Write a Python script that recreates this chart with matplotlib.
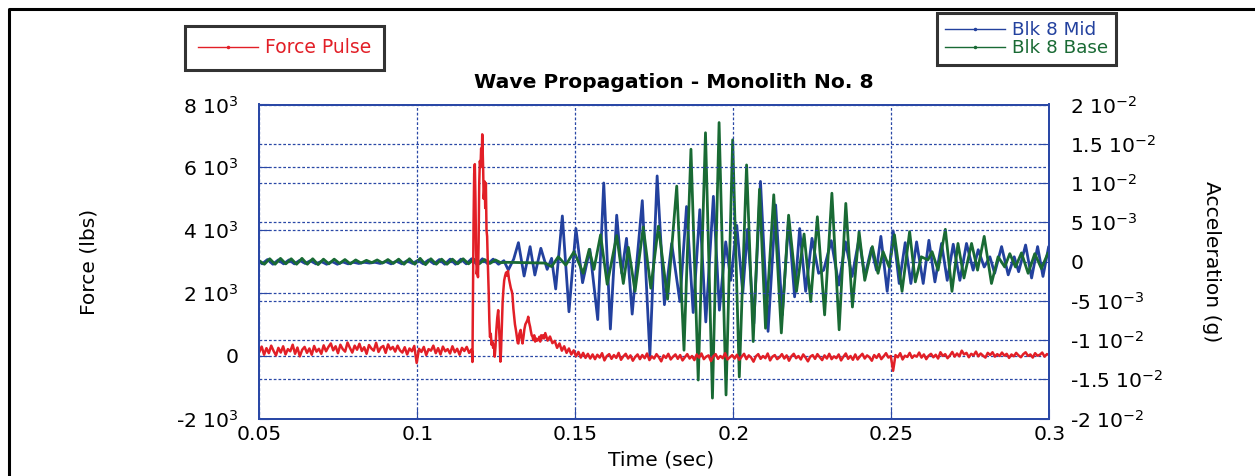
import numpy as np
import matplotlib
matplotlib.use("Agg")
import matplotlib.pyplot as plt
from matplotlib.lines import Line2D

# ---------------- data (time in ms, force in lbs, acceleration in milli-g) ----------------
# Force pulse: pre-pulse baseline samples (evenly spaced 50 ms .. 117.15 ms)
force_pre = [120, 290, 30, 240, 80, 320, 150, 10, 250, 100, 300, 40, 210, 140, 350, 60, 260, -20,
             190, 280, 90, 230, 30, 310, 130, 220, 60,
             330, 140, 280, 390, 170, 300, 80, 350, 210, 130, 420, 250, 100, 320, 190, 380, 150,
             270, 60, 340, 230, 160, 410, 120, 260, 310, 90, 360, 200, 280, 130, 320, 170,
             100, 270, 40, 230, 140, 310, -230, 220, 120, 280, 20, 210, 160, 320, 80, 240, 40,
             290, 140, 210, 70, 300, 110, 220, 30, 250, 150, 280, 90, 200]
# Force pulse: the impact itself
pulse_t = [117.3, 117.45, 117.6, 117.8, 118.0, 118.2, 118.4, 118.6, 118.8, 119.0,
           119.2, 119.4, 119.6, 119.8, 120.0, 120.2, 120.4, 120.55, 120.7, 120.85,
           121.0, 121.15, 121.3, 121.5, 121.7, 121.9, 122.1, 122.3, 122.6, 122.8,
           123.0, 123.25, 123.5, 123.75, 124.0, 124.25, 124.5, 124.75, 125.0, 125.3,
           125.6, 125.85, 126.1, 126.3, 126.5, 126.75, 127.0, 127.25, 127.5, 127.8,
           128.1, 128.4, 128.7, 129.0, 129.3, 129.6, 129.9, 130.1, 130.4, 130.6,
           130.9, 131.2, 131.5, 131.8, 132.0, 132.3, 132.7, 133.0, 133.3, 133.6,
           133.9, 134.2, 134.6, 134.9, 135.1, 135.4, 135.7, 135.9, 136.2, 136.5,
           136.7, 137.0, 137.3, 137.6, 137.9, 138.3, 138.6, 138.9, 139.2, 139.5,
           139.8, 140.1]
pulse_f = [150, -200, 1800, 4200, 5800, 6100, 5000, 3400, 2600, 2800,
           2500, 3600, 5500, 6200, 6000, 6600, 6300, 7050, 6500, 5900,
           5000, 5200, 5550, 4700, 5500, 4000, 3800, 3000, 2000, 1100,
           600, 700, 350, 450, 250, 350, -30, 300, 800, 1200,
           1450, 900, 400, -190, 150, 900, 1700, 2100, 2400, 2550,
           2650, 2550, 2700, 2450, 2300, 2150, 2050, 1950, 1500, 1300,
           1000, 820, 600, 400, 390, 700, 820, 550, 390, 600,
           850, 1000, 1080, 1150, 1240, 1050, 920, 800, 650, 600,
           500, 650, 450, 550, 480, 500, 600, 450, 650, 550,
           650, 550]
# Force pulse: post-pulse samples (evenly spaced 140.5 ms .. 300 ms)
force_post = [720, 480, 610, 400, 470, 250, 390, 160, 300, 90, 230, 40, 170, -20, 120, -60, 90, -70, 60, -90,
              40, -110, 30, -60, 80, -150, -10, 50, -100, 20, -70, 90, -130, -20, 60, -90, 10, -160, -40, 40,
              -110, 20, -80, 70, -140, -20, -90, 50, -50, -180, 10, -70, 60, -120, -30, 40, -100, 20, -150, -50,
              50, -90, -10, -140, 40, -60, 70, -110, -30, 10, -170, -20, 50, -100, -10, -80, 80, -120, -50, 20,
              -90, 30, -130, -30, 60, -110, 10, -60, -190, -20, 50, -100, -10, -80, 70, -150, -30, 20, -110, -50,
              50, -90, 10, -160, -20, 60, -80, -10, -120, 40, -60, -180, -30, 20, -100, 50, -50, -140, 10, -90,
              60, -110, -20, -80, 40, -150, -30, 70, -100, -10, -130, 40, -120, -20, 60, -90, 10, -50, -160, 20,
              -70, 50, -110, -20, 80, -60, -10,
              -480, 20, -50, 80, -120, 0, -40, 90, -70, 10, -30, 100, -60, 40, -110, 0, 60, -50, 30, -90,
              110, -10, 50, -80, 10, 120, -30, 70, -20, 160, 40, 90, -50, 60, 10, 130, -20, 70, 0, -60,
              90, 20, 110, -30, 50, -10, 100, 0, 60, -70, 40, -20, 90, 10, -50, 50, 110, -10, 40, -60,
              80, 0, 30, 100, -30, 50, 20]

# Blk 8 Mid acceleration (ms, milli-g)
mid_t = [50.0, 50.9, 52.6, 54.3, 56.0, 57.7, 59.4, 61.1, 62.8, 64.5, 66.2, 67.9, 69.6, 71.3, 73.0, 74.7,
         76.4, 78.1, 79.8, 81.5, 83.2, 84.9, 86.6, 88.3, 90.0, 91.7, 93.4, 95.1, 96.8, 98.5, 100.2, 101.9,
         103.6, 105.3, 107.0, 108.7, 110.4, 112.1, 113.8, 115.5, 117.2, 118.9, 120.6, 122.3, 124.0, 125.7,
         127.4,
         128.8, 130.5, 132.0, 133.8, 135.7, 137.2, 139.1, 141.1, 142.5, 143.8,
         145.9, 148.0, 150.2, 152.3, 154.6, 157.1, 159.0, 161.1, 163.1, 164.7,
         166.2, 168.0, 171.2, 173.6, 175.9, 178.2, 180.5, 183.1, 185.2, 187.3,
         189.4, 191.3, 193.7, 195.6, 197.6, 199.2, 201.1, 203.0, 204.5, 206.5,
         208.6, 211.0, 213.4, 215.5, 217.5, 219.4, 221.0, 222.9, 224.9, 227.0,
         228.6, 231.0, 233.4, 235.5, 237.6, 239.8, 241.6, 243.7, 245.3, 246.7,
         248.7, 250.6, 252.5, 254.4, 256.2, 258.0, 260.1, 261.9, 263.8, 265.9,
         267.7, 269.6, 271.7, 273.8, 275.9, 277.5, 279.4, 281.2, 282.7, 284.9,
         287.0, 288.9, 290.3, 292.5, 294.4, 296.3, 298.0, 299.8, 300.0]
mid_mg = [0.0, -0.3, 0.25, -0.35, 0.2, -0.3, 0.2, -0.3, 0.15, -0.25, 0.1, -0.3, 0.0, -0.35, 0.0, -0.35,
          -0.05, -0.3, -0.1, -0.25, -0.1, -0.2, -0.1, -0.25, 0.0, -0.3, 0.05, -0.3, 0.1, -0.25, 0.15, -0.3,
          0.2, -0.3, 0.25, -0.35, 0.3, -0.35, 0.3, -0.3, 0.35, -0.4, 0.35, -0.3, 0.3, -0.35,
          0.1,
          -1.08, 0.3, 2.4, -1.85, 1.89, -1.72, 1.68, -1.0, 0.4, -3.5,
          5.8, -6.4, 4.2, -2.7, 1.55, -7.4, 10.0, -8.6, 5.9, -1.5,
          2.95, -6.7, 7.75, -11.9, 10.9, -5.5, 2.3, -5.1, 7.0, -6.5,
          6.6, -7.7, 8.3, -6.2, 2.5, -2.4, 4.6, -4.0, 4.1, -7.9,
          10.2, -8.9, 7.2, -6.8, 5.3, -4.5, 4.2, -3.8, 2.95, -1.5,
          -1.1, 2.65, -3.0, 2.5, -1.9, 2.95, -1.9, 1.7, -1.1, 3.2,
          -3.8, 3.9, -2.8, 2.4, -2.8, 2.5, -2.8, 2.7, -2.6, 2.3,
          -2.4, 2.2, -2.4, 2.3, -1.1, 1.5, -0.7, 0.6, -1.5, 1.9,
          -1.7, 0.6, -1.3, 2.1, -2.1, 1.9, -1.9, 1.9, 1.9]

# Blk 8 Base acceleration (ms, milli-g)
base_t = [50.0, 51.6, 53.3, 55.0, 56.7, 58.4, 60.1, 61.8, 63.5, 65.2, 66.9, 68.6, 70.3, 72.0, 73.7, 75.4,
          77.1, 78.8, 80.5, 82.2, 83.9, 85.6, 87.3, 89.0, 90.7, 92.4, 94.1, 95.8, 97.5, 99.2, 100.9, 102.6,
          104.3, 106.0, 107.7, 109.4, 111.1, 112.8, 114.5, 116.2, 117.9, 119.6, 121.3, 123.0, 124.7, 126.4,
          128.1,
          140.4, 142.5, 144.6, 147.0, 149.6, 152.5, 154.4, 155.9, 158.0, 160.1,
          163.1, 165.2, 166.8, 168.9, 171.5, 173.9, 176.3, 179.2, 182.1, 184.4,
          186.6, 188.9, 191.2, 193.4, 195.5, 197.7, 199.8, 201.9, 204.2, 206.3,
          208.3, 210.2, 212.8, 215.2, 217.5, 220.0, 222.4, 224.5, 226.6, 228.9,
          231.2, 233.5, 235.6, 237.7, 239.8, 241.6, 244.0, 245.8, 247.4, 249.3,
          251.0, 253.4, 255.8, 257.6, 259.5, 261.6, 262.9, 264.8, 267.1, 269.2,
          271.1, 273.0, 275.4, 277.3, 279.4, 281.7, 283.8, 285.9, 287.5, 289.3,
          291.2, 293.3, 295.4, 297.5, 299.6, 300.0]
base_mg = [0.1, -0.35, 0.35, -0.35, 0.4, -0.3, 0.35, -0.35, 0.4, -0.35, 0.35, -0.4, 0.3, -0.3, 0.3, -0.25,
           0.25, -0.3, 0.2, -0.2, 0.15, -0.15, 0.2, -0.2, 0.25, -0.25, 0.3, -0.35, 0.35, -0.35, 0.4, -0.4,
           0.35, -0.35, 0.3, -0.35, 0.3, -0.3, 0.35, -0.3, 0.3, -0.3, 0.25, -0.25, 0.2, -0.15,
           -0.1,
           -0.2, -0.65, 0.6, -0.45, 1.25, -1.5, 1.55, -1.0, 3.4, -2.9,
           3.3, -2.8, 1.8, -3.8, 4.4, -3.4, 4.5, -4.8, 9.6, -11.3,
           14.3, -15.1, 16.4, -17.4, 17.7, -17.0, 15.5, -14.7, 12.3, -10.2,
           9.2, -8.5, 8.5, -9.1, 5.9, -3.8, 3.5, -5.1, 5.7, -6.8,
           8.7, -8.7, 7.4, -5.8, 3.8, -2.4, 1.9, -1.5, 1.25, -0.7,
           3.4, -3.8, 3.8, -2.6, 0.6, 0.2, 1.25, -1.1, 4.1, -3.8,
           2.3, -2.1, 2.3, -1.1, 3.2, -2.8, 0.6, -0.7, 1.0, -0.7,
           1.1, -1.5, 1.0, -0.9, 1.1, 0.8]

time_ticks = [0.05, 0.1, 0.15, 0.2, 0.25, 0.3]
time_labels = ["0.05", "0.1", "0.15", "0.2", "0.25", "0.3"]
force_ticks = [-2000, 0, 2000, 4000, 6000, 8000]
force_labels = ["-2 10$^{3}$", "0", "2 10$^{3}$", "4 10$^{3}$", "6 10$^{3}$", "8 10$^{3}$"]
acc_ticks = [-0.02, -0.015, -0.01, -0.005, 0, 0.005, 0.01, 0.015, 0.02]
acc_labels = ["-2 10$^{-2}$", "-1.5 10$^{-2}$", "-1 10$^{-2}$", "-5 10$^{-3}$", "0",
              "5 10$^{-3}$", "1 10$^{-2}$", "1.5 10$^{-2}$", "2 10$^{-2}$"]

# ---------------- styling ----------------
RED = "#E21F27"
BLUE = "#23419E"
GREEN = "#196A34"
AXBLUE = "#2A48A6"
FS = 14.6

plt.rcParams["font.family"] = ["DejaVu Sans"]
plt.rcParams["mathtext.default"] = "regular"

W, H = 1255, 476
fig = plt.figure(figsize=(W / 100, H / 100), dpi=100)
L, R, T, B = 259.3, 1049.3, 104.5, 418.5
ax = fig.add_axes([L / W, 1 - B / H, (R - L) / W, (B - T) / H])
ax2 = ax.twinx()

# force series
t_force = np.concatenate([np.linspace(50.0, 117.15, len(force_pre)), pulse_t,
                          np.linspace(140.5, 300.0, len(force_post))]) / 1000.0
f_force = np.concatenate([force_pre, pulse_f, force_post])

ax2.plot(np.array(mid_t) / 1000.0, np.array(mid_mg) / 1000.0, color=BLUE, lw=2.0,
         solid_joinstyle="round", label="Blk 8 Mid")
ax2.plot(np.array(base_t) / 1000.0, np.array(base_mg) / 1000.0, color=GREEN, lw=2.0,
         solid_joinstyle="round", label="Blk 8 Base")
ax.plot(t_force, f_force, color=RED, lw=1.8, label="Force Pulse")

ax.set_zorder(ax2.get_zorder() + 1)
ax.patch.set_visible(False)

ax.set_xlim(0.05, 0.3)
ax.set_ylim(-2000, 8000)
ax2.set_ylim(-0.02, 0.02)
ax.set_xticks(time_ticks, time_labels)
ax.set_yticks(force_ticks, force_labels)
ax2.set_yticks(acc_ticks, acc_labels)

dash = (0, (2.2, 1.6))
ax.grid(True, color=AXBLUE, linestyle=dash, lw=0.9)
ax2.grid(True, axis="y", color=AXBLUE, linestyle=dash, lw=0.9)
ax2.grid(False, axis="x")

for a in (ax, ax2):
    for s in a.spines.values():
        s.set_color(AXBLUE)
        s.set_linewidth(1.4)

ax.tick_params(axis="x", direction="in", length=7, color=AXBLUE, pad=4.5, labelsize=FS)
ax.tick_params(axis="y", direction="in", length=7, color=AXBLUE, pad=15, labelsize=FS)
ax2.tick_params(axis="y", direction="in", length=7, color=AXBLUE, pad=15, labelsize=FS)

ax.set_xlabel("Time (sec)", fontsize=FS)
ax.xaxis.set_label_coords(0.5085, -0.1035)
ax.set_ylabel("Force (lbs)", fontsize=FS)
ax.yaxis.set_label_coords(-0.204, 0.5)
ax2.set_ylabel("Acceleration (g)", fontsize=FS, rotation=270, va="bottom", ha="center")
ax2.yaxis.set_label_coords(1.193, 0.5)

ax.text(0.525, 1.0526, "Wave Propagation - Monolith No. 8", transform=ax.transAxes,
        ha="center", va="baseline", fontsize=FS, fontweight="bold")

# legends
h_force = Line2D([], [], color=RED, lw=1.0, marker=".", ms=3)
leg1 = fig.legend([h_force], ["Force Pulse"], loc="upper left",
                  bbox_to_anchor=(185 / W, 1 - 25.7 / H), borderaxespad=0,
                  frameon=True, fancybox=False, edgecolor="black", fontsize=13.5,
                  handlelength=3.2, handletextpad=0.4, borderpad=0.68, labelcolor="linecolor")
leg1.get_frame().set_linewidth(2.2)
h_mid = Line2D([], [], color=BLUE, lw=1.0, marker=".", ms=3)
h_base = Line2D([], [], color=GREEN, lw=1.0, marker=".", ms=3)
leg2 = fig.legend([h_mid, h_base], ["Blk 8 Mid", "Blk 8 Base"], loc="upper left",
                  bbox_to_anchor=(936.7 / W, 1 - 12.7 / H), borderaxespad=0,
                  frameon=True, fancybox=False, edgecolor="black", fontsize=13.2,
                  handlelength=3.3, handletextpad=0.35, borderpad=0.45, labelspacing=0.0,
                  labelcolor="linecolor")
leg2.get_frame().set_linewidth(2.2)

# outer frame (top and left edges visible in the original crop)
fig.add_artist(Line2D([9 / W, 9 / W, 1.0], [0.0, 1 - 9 / H, 1 - 9 / H],
                      transform=fig.transFigure, color="black", lw=2.2))

fig.savefig("out.png", dpi=100)
